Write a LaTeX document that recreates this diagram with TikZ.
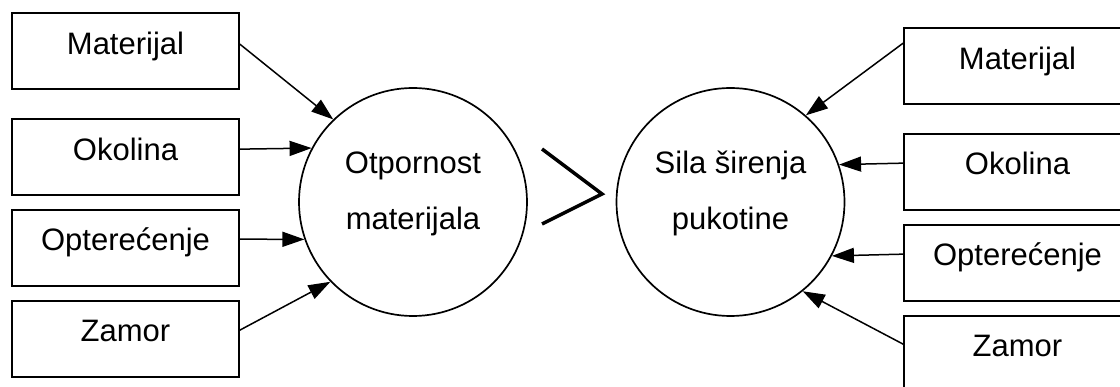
\documentclass[tikz,border=0pt]{standalone}
\usepackage{fontspec}
\setmainfont{Liberation Sans}
\usetikzlibrary{arrows.meta,calc}
\tikzset{
  txt/.style={inner sep=0pt,anchor=base,font=\fontsize{31}{37}\selectfont},
  factor/.style={draw,line width=1.7pt,minimum width=227pt,minimum height=76pt,inner sep=0pt},
  bubble/.style={draw,circle,line width=1.7pt,minimum size=228pt,inner sep=0pt},
  conn/.style={line width=1.5pt,-{Triangle[length=22pt,width=15pt]}},
}
\begin{document}
\begin{tikzpicture}[x=1pt,y=-1pt]
\useasboundingbox (0,0) rectangle (1120,387);
\clip (0,0) rectangle (1120,387);
% circles
\node[bubble] (c1) at (413,202) {};
\node[bubble] (c2) at (730.5,202) {};
\node[txt] (c1a) at (413,173.5) {Otpornost};
\node[txt] (c1b) at (413,230) {materijala};
\node[txt] (c2a) at (730.5,173.5) {Sila širenja};
\node[txt] (c2b) at (730.5,230) {pukotine};
% greater-than sign
\coordinate (g1) at (542,149);
\coordinate (g2) at (602,194);
\coordinate (g3) at (542,224);
\draw[line width=3.5pt] (g1) -- (g2) -- (g3);
% left boxes
\node[factor] (l1) at (125.5,51) {};
\node[factor] (l2) at (125.5,157) {};
\node[factor] (l3) at (125.5,248) {};
\node[factor] (l4) at (125.5,339) {};
\node[txt] (l1t) at (125.5,55) {Materijal};
\node[txt] (l2t) at (125.5,161) {Okolina};
\node[txt] (l3t) at (125.5,251) {Opterećenje};
\node[txt] (l4t) at (125.5,342) {Zamor};
% right boxes
\node[factor] (r1) at (1017.5,66) {};
\node[factor] (r2) at (1017.5,172) {};
\node[factor] (r3) at (1017.5,263) {};
\node[factor] (r4) at (1017.5,354) {};
\node[txt] (r1t) at (1017.5,70) {Materijal};
\node[txt] (r2t) at (1017.5,175) {Okolina};
\node[txt] (r3t) at (1017.5,266) {Opterećenje};
\node[txt] (r4t) at (1017.5,356.5) {Zamor};
% connectors left
\draw[conn] ($(l1.north east)+(0,32)$) -- (c1.134);
\draw[conn] ($(l2.north east)+(0,31)$) -- (c1.152.9);
\draw[conn] ($(l3.north east)+(0,30)$) -- (c1.199.5);
\draw[conn] ($(l4.north east)+(0,30)$) -- (c1.224.6);
% connectors right
\draw[conn] ($(r1.north west)+(0,16)$) -- (c2.49.7);
\draw[conn] ($(r2.north west)+(0,30)$) -- (c2.19.5);
\draw[conn] ($(r3.north west)+(0,30)$) -- (c2.332.3);
\draw[conn] ($(r4.north west)+(0,29)$) -- (c2.309.1);
\end{tikzpicture}
\end{document}
